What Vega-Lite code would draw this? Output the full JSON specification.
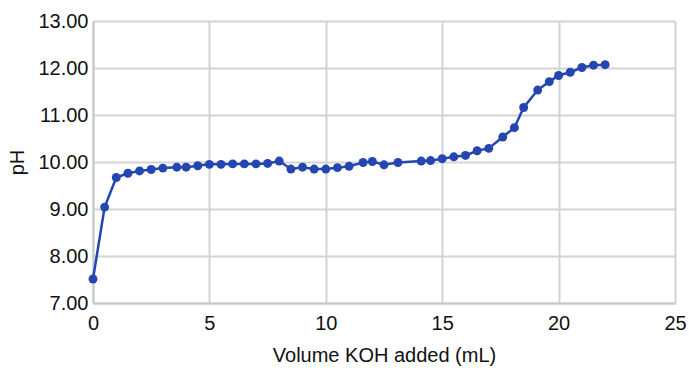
{
  "$schema": "https://vega.github.io/schema/vega-lite/v6.json",
  "width": 582,
  "height": 282,
  "autosize": {"type": "none"},
  "padding": {"left": 93, "top": 21, "right": 14, "bottom": 67},
  "background": "white",
  "config": {
    "view": {"stroke": null},
    "font": "Liberation Sans",
    "axis": {
      "labelFont": "Liberation Sans",
      "titleFont": "Liberation Sans",
      "labelFontSize": 20,
      "titleFontSize": 20,
      "labelColor": "#111111",
      "titleColor": "#111111",
      "titleFontWeight": "normal",
      "gridColor": "#d3d3d3",
      "gridWidth": 2,
      "domainColor": "#c8c8c8",
      "domainWidth": 2,
      "ticks": false
    }
  },
  "data": {
    "values": [
      {"volume": 0, "pH": 7.51},
      {"volume": 0.5, "pH": 9.04},
      {"volume": 1.0, "pH": 9.67},
      {"volume": 1.5, "pH": 9.76},
      {"volume": 2.0, "pH": 9.81},
      {"volume": 2.5, "pH": 9.84},
      {"volume": 3.0, "pH": 9.87},
      {"volume": 3.6, "pH": 9.89},
      {"volume": 4.0, "pH": 9.89},
      {"volume": 4.5, "pH": 9.92},
      {"volume": 5.0, "pH": 9.95},
      {"volume": 5.5, "pH": 9.95},
      {"volume": 6.0, "pH": 9.96},
      {"volume": 6.5, "pH": 9.96},
      {"volume": 7.0, "pH": 9.96},
      {"volume": 7.5, "pH": 9.97},
      {"volume": 8.0, "pH": 10.02},
      {"volume": 8.5, "pH": 9.85},
      {"volume": 9.0, "pH": 9.89},
      {"volume": 9.5, "pH": 9.85},
      {"volume": 10.0, "pH": 9.85},
      {"volume": 10.5, "pH": 9.88},
      {"volume": 11.0, "pH": 9.91},
      {"volume": 11.6, "pH": 9.99},
      {"volume": 12.0, "pH": 10.01},
      {"volume": 12.5, "pH": 9.94},
      {"volume": 13.1, "pH": 9.99},
      {"volume": 14.1, "pH": 10.02},
      {"volume": 14.5, "pH": 10.03},
      {"volume": 15.0, "pH": 10.07},
      {"volume": 15.5, "pH": 10.11},
      {"volume": 16.0, "pH": 10.14},
      {"volume": 16.5, "pH": 10.24},
      {"volume": 17.0, "pH": 10.29},
      {"volume": 17.6, "pH": 10.53},
      {"volume": 18.1, "pH": 10.73},
      {"volume": 18.5, "pH": 11.16},
      {"volume": 19.1, "pH": 11.53},
      {"volume": 19.6, "pH": 11.71},
      {"volume": 20.0, "pH": 11.84},
      {"volume": 20.5, "pH": 11.91},
      {"volume": 21.0, "pH": 12.01},
      {"volume": 21.5, "pH": 12.06},
      {"volume": 22.0, "pH": 12.07}
    ]
  },
  "mark": {
    "type": "line",
    "color": "#2446b0",
    "strokeWidth": 2.5,
    "point": {"filled": true, "size": 80, "color": "#2446b0", "opacity": 1}
  },
  "encoding": {
    "x": {
      "field": "volume",
      "type": "quantitative",
      "title": "Volume KOH added (mL)",
      "scale": {"domain": [0, 25], "nice": false},
      "axis": {"values": [0, 5, 10, 15, 20, 25], "labelPadding": 10, "titlePadding": 12, "labelFlush": false}
    },
    "y": {
      "field": "pH",
      "type": "quantitative",
      "title": "pH",
      "scale": {"domain": [7, 13], "nice": false, "zero": false},
      "axis": {"values": [7, 8, 9, 10, 11, 12, 13], "format": ".2f", "labelPadding": 5, "titlePadding": 10, "labelFlush": false}
    }
  }
}
